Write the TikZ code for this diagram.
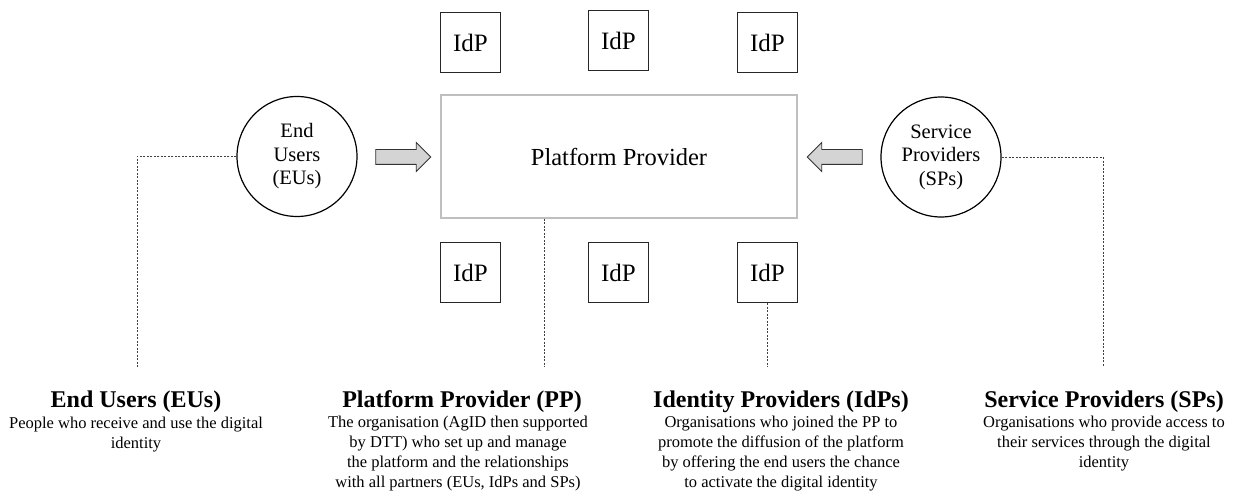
\documentclass[tikz,border=0pt]{standalone}
\usepackage{fontspec}
\setmainfont{Liberation Serif}
\usetikzlibrary{shapes.arrows}
\begin{document}
\begin{tikzpicture}[x=1pt,y=-1pt,
  idpbox/.style={draw=black!85, line width=1.3pt, minimum size=60pt, inner sep=0pt, font=\fontsize{25}{28}\selectfont},
  actor/.style={circle, draw=black, line width=1.2pt, minimum size=120pt, inner sep=0pt, align=center, font=\fontsize{20.5}{23.5}\selectfont},
  ppbox/.style={draw=black!25, line width=2pt, minimum width=356pt, minimum height=123pt, inner sep=0pt, font=\fontsize{24.5}{28}\selectfont},
  blockarrow/.style={single arrow, draw=black!80, fill=black!17, line width=0.9pt, inner xsep=0pt, inner ysep=7pt, minimum height=55pt, single arrow head extend=7pt, single arrow head indent=0pt},
  dotline/.style={draw=black!75, line width=0.8pt, dash pattern=on 2pt off 1.5pt},
  titletext/.style={anchor=base, inner sep=0pt, font=\bfseries\fontsize{24}{28}\selectfont},
  desctext/.style={anchor=north, align=center, inner sep=0pt, font=\fontsize{16.5}{20}\selectfont}
]
\useasboundingbox (0,0) rectangle (1237,494);

% central platform
\node[ppbox] (pp) at (619,156.5) {Platform Provider};

% identity providers
\node[idpbox] (idp1) at (470.5,42.5) {IdP};
\node[idpbox] (idp2) at (618.5,40.5) {IdP};
\node[idpbox] (idp3) at (767.5,42.5) {IdP};
\node[idpbox] (idp4) at (470.5,272.5) {IdP};
\node[idpbox] (idp5) at (618.5,272.5) {IdP};
\node[idpbox] (idp6) at (767.5,272.5) {IdP};

% actors
\node[actor] (eu) at (297,156.5) {End\\Users\\(EUs)};
\node[actor] (sp) at (941,157) {Service\\Providers\\(SPs)};

% block arrows
\node[blockarrow] (euarrow) at (399.5,157) {};
\node[blockarrow, shape border rotate=180] (sparrow) at (838.5,157) {};

% dotted leaders
\coordinate (euend) at (137,367);
\coordinate (ppend) at (544,367);
\coordinate (idpend) at (767.5,367);
\coordinate (spend) at (1103,367);
\draw[dotline] (eu.west) -| (euend);
\draw[dotline] (pp.south -| ppend) -- (ppend);
\draw[dotline] (idp6.south) -- (idpend);
\draw[dotline] (sp.east) -| (spend);

% titles
\node[titletext] (t1) at (136,407) {End Users (EUs)};
\node[titletext] (t2) at (462,407) {Platform Provider (PP)};
\node[titletext] (t3) at (781,407) {Identity Providers (IdPs)};
\node[titletext] (t4) at (1104,407) {Service Providers (SPs)};

% descriptions
\node[desctext] (d1) at (136,414) {\strut People who receive and use the digital\\identity};
\node[desctext] (d2) at (458,413) {\strut The organisation (AgID then supported\\by DTT) who set up and manage\\the platform and the relationships\\with all partners (EUs, IdPs and SPs)};
\node[desctext] (d3) at (781,413) {\strut Organisations who joined the PP to\\promote the diffusion of the platform\\by offering the end users the chance\\to activate the digital identity};
\node[desctext] (d4) at (1104,413) {\strut Organisations who provide access to\\their services through the digital\\identity};
\end{tikzpicture}
\end{document}
